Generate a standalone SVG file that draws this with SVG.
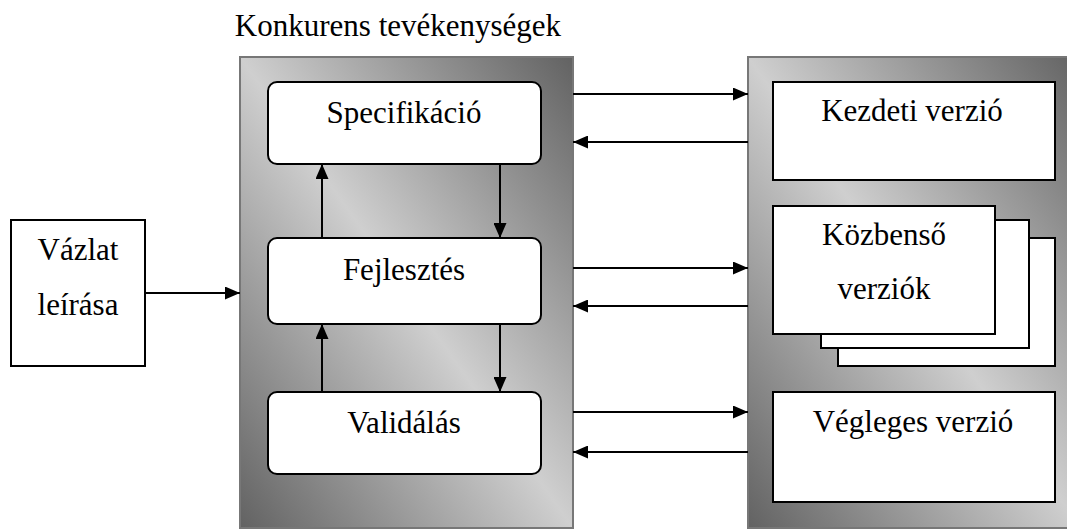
<svg xmlns="http://www.w3.org/2000/svg" width="1067" height="530" viewBox="0 0 1067 530">
  <style>
    .lbl { font-family: "Liberation Serif", "Times New Roman", serif; font-size: 31px; fill: #000; text-anchor: middle; }
    .panel { fill: url(#shade); stroke: #777; stroke-width: 2; }
    .box { fill: #fff; stroke: #000; stroke-width: 2; }
    .conn { stroke: #000; stroke-width: 2; fill: none; }
  </style>
  <defs>
    <linearGradient id="shade" x1="1" y1="0" x2="0" y2="1">
      <stop offset="0" stop-color="#626262"/>
      <stop offset="0.5" stop-color="#cfcfcf"/>
      <stop offset="1" stop-color="#626262"/>
    </linearGradient>
    <marker id="ah" viewBox="0 0 15 13" refX="15" refY="6.5" markerWidth="15" markerHeight="13" markerUnits="userSpaceOnUse" orient="auto">
      <path d="M0,0 L15,6.5 L0,13 Z" fill="#000"/>
    </marker>
  </defs>

  <rect width="1067" height="530" fill="#fff"/>

  <!-- title above the activity panel -->
  <text class="lbl" x="398" y="36">Konkurens tevékenységek</text>

  <!-- shaded containers -->
  <g id="activities">
    <rect class="panel" x="240" y="57" width="333" height="471"/>
  </g>
  <g id="versions">
    <rect class="panel" x="748" y="57" width="333" height="471"/>
  </g>

  <g id="vazlat">
    <rect class="box" x="11" y="220" width="134" height="146"/>
    <text class="lbl" x="78" y="260">Vázlat</text>
    <text class="lbl" x="78" y="315">leírása</text>
  </g>

  <g id="specifikacio">
    <rect class="box" x="268" y="82" width="273" height="82" rx="9"/>
    <text class="lbl" x="404" y="123">Specifikáció</text>
  </g>
  <g id="fejlesztes">
    <rect class="box" x="268" y="238" width="273" height="86" rx="9"/>
    <text class="lbl" x="404" y="280">Fejlesztés</text>
  </g>
  <g id="validalas">
    <rect class="box" x="268" y="392" width="273" height="82" rx="9"/>
    <text class="lbl" x="404" y="433">Validálás</text>
  </g>

  <g id="kezdeti">
    <rect class="box" x="773" y="82" width="282" height="98"/>
    <text class="lbl" x="912" y="121">Kezdeti verzió</text>
  </g>
  <g id="kozbenso">
    <rect class="box" x="838" y="238" width="217" height="128"/>
    <rect class="box" x="821" y="220" width="208" height="128"/>
    <rect class="box" x="773" y="206" width="222" height="128"/>
    <text class="lbl" x="884" y="245">Közbenső</text>
    <text class="lbl" x="884" y="299">verziók</text>
  </g>
  <g id="vegleges">
    <rect class="box" x="773" y="392" width="282" height="110"/>
    <text class="lbl" x="913" y="432">Végleges verzió</text>
  </g>

  <g id="connectors">
    <line class="conn" x1="145" y1="293" x2="240" y2="293" marker-end="url(#ah)"/>
    <!-- loops between the activities -->
    <line class="conn" x1="322" y1="238" x2="322" y2="164" marker-end="url(#ah)"/>
    <line class="conn" x1="500" y1="164" x2="500" y2="238" marker-end="url(#ah)"/>
    <line class="conn" x1="322" y1="392" x2="322" y2="324" marker-end="url(#ah)"/>
    <line class="conn" x1="500" y1="324" x2="500" y2="392" marker-end="url(#ah)"/>
    <!-- exchanges between the two panels -->
    <line class="conn" x1="573" y1="94" x2="748" y2="94" marker-end="url(#ah)"/>
    <line class="conn" x1="748" y1="142" x2="573" y2="142" marker-end="url(#ah)"/>
    <line class="conn" x1="573" y1="268" x2="748" y2="268" marker-end="url(#ah)"/>
    <line class="conn" x1="748" y1="306" x2="573" y2="306" marker-end="url(#ah)"/>
    <line class="conn" x1="573" y1="412" x2="748" y2="412" marker-end="url(#ah)"/>
    <line class="conn" x1="748" y1="452" x2="573" y2="452" marker-end="url(#ah)"/>
  </g>
</svg>
